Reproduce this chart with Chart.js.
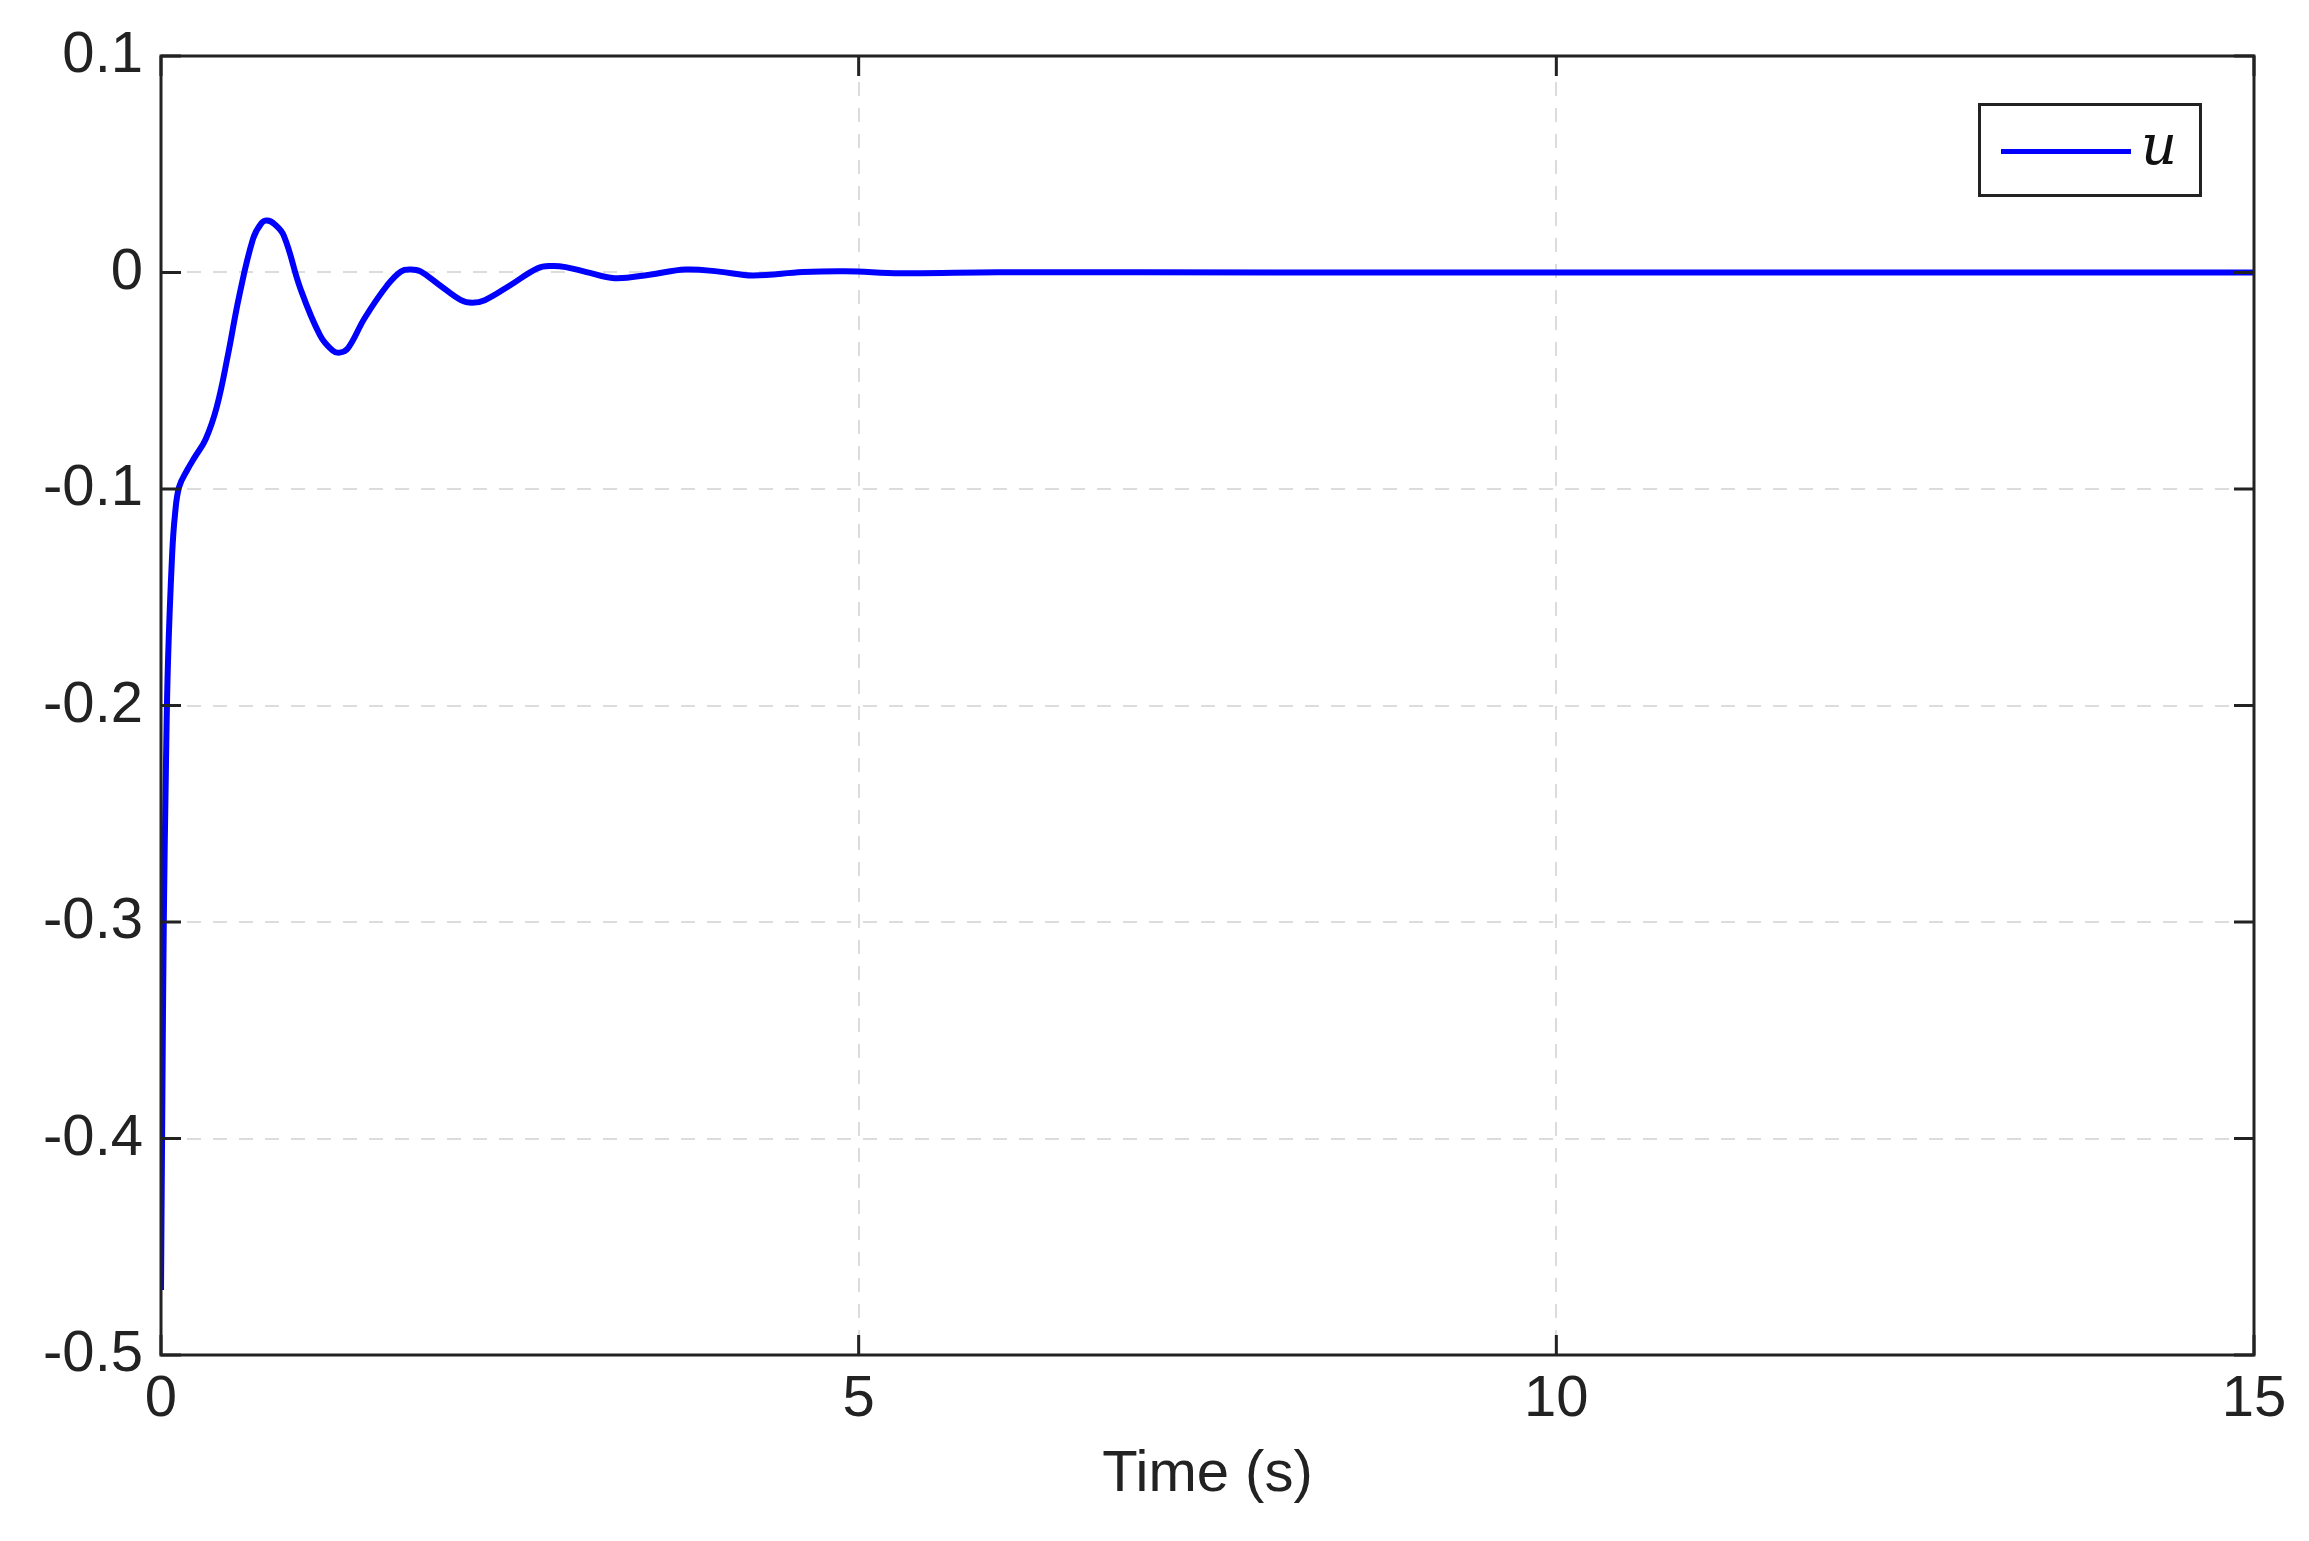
<!DOCTYPE html>
<html>
<head>
<meta charset="utf-8">
<script src="https://cdn.jsdelivr.net/npm/chart.js@4/dist/chart.umd.min.js"></script>
<style>
  body { margin: 0; background: #fff; }
  #wrap { position: relative; width: 2309px; height: 1541px; }
  #legend { position: absolute; left: 1978px; top: 103px; width: 224px; height: 94px; border: 3px solid #222; background: #fff; box-sizing: border-box; }
  #legend .ln { position: absolute; left: 20px; top: 43px; width: 130px; height: 5px; background: #0000ff; }
  #legend .tx { position: absolute; left: 160px; top: 6px; font: italic 56px "DejaVu Serif", serif; color: #111; }
</style>
</head>
<body>
<div id="wrap">
  <canvas id="c" width="2309" height="1541"></canvas>
  <div id="legend"><div class="ln"></div><div class="tx">u</div></div>
</div>
<script>
// time (s) and control signal u
const times = [0, 0.01, 0.02, 0.035, 0.05, 0.08, 0.1, 0.13, 0.19, 0.24, 0.32, 0.40, 0.48, 0.56, 0.66, 0.72, 0.76, 0.81, 0.88, 1.0, 1.14, 1.23, 1.28, 1.34, 1.46, 1.62, 1.72, 1.79, 1.86, 2.0, 2.15, 2.23, 2.32, 2.5, 2.7, 2.8, 2.9, 3.05, 3.25, 3.5, 3.76, 4.0, 4.24, 4.6, 4.9, 5.3, 6, 8, 10, 12, 15];
const uValues = [-0.47, -0.38, -0.3, -0.23, -0.18, -0.13, -0.112, -0.099, -0.091, -0.0855, -0.077, -0.062, -0.038, -0.011, 0.0156, 0.0228, 0.024, 0.0225, 0.017, -0.0076, -0.029, -0.036, -0.037, -0.035, -0.021, -0.006, 0.0005, 0.0014, 0.0005, -0.006, -0.0128, -0.014, -0.0128, -0.006, 0.002, 0.003, 0.0025, 0.0002, -0.0026, -0.001, 0.0014, 0.0004, -0.0014, 0.0002, 0.0006, -0.0003, 0.0001, 0, 0, 0, 0];
const xTicks = [0, 5, 10, 15];
const yTicks = [-0.5, -0.4, -0.3, -0.2, -0.1, 0, 0.1];

const font = { family: "Liberation Sans, Arial, sans-serif", size: 58 };

const frame = {
  id: "frame",
  afterDraw(chart) {
    const { ctx, chartArea: a, scales } = chart;
    ctx.save();
    ctx.strokeStyle = "#222";
    ctx.lineWidth = 3;
    ctx.strokeRect(a.left, a.top, a.right - a.left, a.bottom - a.top);
    const L = 20;
    ctx.beginPath();
    xTicks.forEach(v => {
      const x = scales.x.getPixelForValue(v);
      ctx.moveTo(x, a.bottom); ctx.lineTo(x, a.bottom - L);
      ctx.moveTo(x, a.top); ctx.lineTo(x, a.top + L);
    });
    yTicks.forEach(v => {
      const y = scales.y.getPixelForValue(v);
      ctx.moveTo(a.left, y); ctx.lineTo(a.left + L, y);
      ctx.moveTo(a.right, y); ctx.lineTo(a.right - L, y);
    });
    ctx.stroke();
    ctx.restore();
  }
};

new Chart(document.getElementById("c"), {
  type: "line",
  data: {
    datasets: [{
      data: times.map((t, i) => ({ x: t, y: uValues[i] })),
      borderColor: "#0000ff",
      borderWidth: 6,
      pointRadius: 0,
      tension: 0.4,
      fill: false
    }]
  },
  options: {
    responsive: false,
    animation: false,
    layout: { padding: { top: 56, right: 55, bottom: 31 } },
    plugins: { legend: { display: false }, tooltip: { enabled: false } },
    scales: {
      x: {
        type: "linear", min: 0, max: 15,
        afterBuildTicks: s => { s.ticks = xTicks.map(v => ({ value: v })); },
        afterFit: s => { s.height = 155; },
        ticks: { font, color: "#222", padding: 10, maxRotation: 0 },
        grid: { color: "#dcdcdc", lineWidth: 2, drawTicks: false },
        border: { display: false, dash: [14, 12] },
        title: { display: true, text: "Time (s)", font, color: "#222", padding: 0 }
      },
      y: {
        min: -0.5, max: 0.1,
        afterBuildTicks: s => { s.ticks = yTicks.map(v => ({ value: v })); },
        afterFit: s => { s.width = 161; },
        ticks: { font, color: "#222", padding: 18, callback: v => String(Math.round(v * 10) / 10) },
        grid: { color: "#dcdcdc", lineWidth: 2, drawTicks: false },
        border: { display: false, dash: [14, 12] }
      }
    }
  },
  plugins: [frame]
});
</script>
</body>
</html>
